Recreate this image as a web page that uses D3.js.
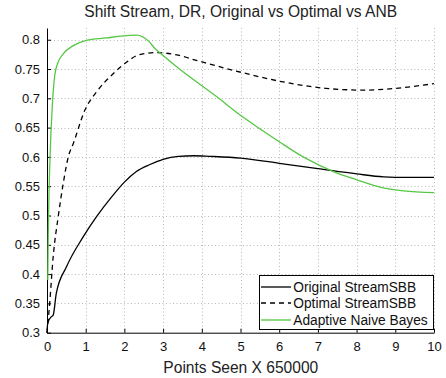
<!DOCTYPE html>
<html>
<head>
<meta charset="utf-8">
<script src="https://cdn.jsdelivr.net/npm/d3@7"></script>
<style>
  html, body { margin: 0; padding: 0; background: #fff; }
  svg { display: block; font-family: "Liberation Sans", Arial, Helvetica, sans-serif; }
</style>
</head>
<body>
<svg id="chart" width="446" height="378"></svg>
<script>
// Detection rate over the stream (x in units of 650000 points)
const originalX = [0, 0.02, 0.11, 0.16, 0.24, 0.5, 0.93, 1.28, 1.65, 2.0, 2.31, 2.66, 3.0, 3.4, 3.8, 4.2, 5.0, 6.0, 7.0, 8.0, 8.7, 9.3, 10];
const originalY = [0.30, 0.317, 0.327, 0.330, 0.367, 0.412, 0.463, 0.498, 0.530, 0.557, 0.575, 0.587, 0.596, 0.601, 0.602, 0.601, 0.598, 0.589, 0.580, 0.571, 0.566, 0.565, 0.565];

const optimalX = [0, 0.07, 0.16, 0.29, 0.42, 0.55, 0.68, 0.98, 1.28, 1.71, 2.06, 2.32, 2.6, 2.83, 3.35, 3.9, 4.8, 6.1, 7.2, 8.2, 9.0, 10];
const optimalY = [0.30, 0.351, 0.430, 0.498, 0.555, 0.600, 0.623, 0.680, 0.711, 0.742, 0.762, 0.773, 0.777, 0.778, 0.774, 0.764, 0.748, 0.728, 0.717, 0.714, 0.717, 0.725];

const anbX = [0.02, 0.03, 0.09, 0.12, 0.16, 0.2, 0.29, 0.42, 0.68, 1.02, 1.54, 1.88, 2.32, 2.62, 2.79, 3.0, 3.44, 4.38, 5.0, 5.5, 6.02, 6.62, 7.4, 8.0, 8.69, 9.21, 10];
const anbY = [0.39, 0.45, 0.620, 0.665, 0.711, 0.739, 0.762, 0.776, 0.790, 0.799, 0.803, 0.806, 0.808, 0.798, 0.785, 0.773, 0.749, 0.703, 0.671, 0.648, 0.625, 0.600, 0.575, 0.561, 0.547, 0.542, 0.539];

const xTicks = [0, 1, 2, 3, 4, 5, 6, 7, 8, 9, 10];
const yTicks = [0.3, 0.35, 0.4, 0.45, 0.5, 0.55, 0.6, 0.65, 0.7, 0.75, 0.8];

const seriesNames = ["Original StreamSBB", "Optimal StreamSBB", "Adaptive Naive Bayes"];
const titleText = "Shift Stream, DR, Original vs Optimal vs ANB";
const xLabelText = "Points Seen X 650000";

const svg = d3.select("#chart");
const plotLeft = 47, plotRight = 434, plotTop = 28, plotBottom = 332.7;

const x = d3.scaleLinear().domain([0, 10]).range([plotLeft, plotRight]);
const y = d3.scaleLinear().domain([0.3, 0.82]).range([plotBottom, plotTop]);

// size a text element so that it spans the given width
function fitWidth(sel, width) {
  const w = sel.node().getComputedTextLength();
  const fs = parseFloat(sel.attr("font-size"));
  sel.attr("font-size", (fs * width / w).toFixed(2));
}

// dotted grid
const grid = svg.append("g").attr("stroke", "#b8b8b8").attr("stroke-width", 1).attr("stroke-dasharray", "1,2.5");
grid.selectAll("line.v").data(xTicks.slice(1)).join("line").attr("class", "v")
  .attr("x1", d => Math.round(x(d)) + 0.5).attr("x2", d => Math.round(x(d)) + 0.5)
  .attr("y1", plotTop).attr("y2", plotBottom);
grid.selectAll("line.h").data(yTicks.slice(1)).join("line").attr("class", "h")
  .attr("x1", plotLeft).attr("x2", plotRight)
  .attr("y1", d => Math.round(y(d)) + 0.5).attr("y2", d => Math.round(y(d)) + 0.5);

// axes with inward ticks
const xAxis = d3.axisBottom(x).tickValues(xTicks).tickFormat(d3.format("d")).tickSizeInner(-4).tickSizeOuter(0).tickPadding(9);
const yAxis = d3.axisLeft(y).tickValues(yTicks).tickFormat(d => String(+d.toFixed(2))).tickSizeInner(-4).tickSizeOuter(0).tickPadding(7);

const gx = svg.append("g").attr("transform", `translate(0,${plotBottom})`).call(xAxis);
const gy = svg.append("g").attr("transform", `translate(${plotLeft},0)`).call(yAxis);
[gx, gy].forEach(g => {
  g.select(".domain").attr("stroke", "#000").attr("stroke-width", 1);
  g.selectAll(".tick line").attr("stroke", "#000");
  g.selectAll(".tick text").attr("fill", "#111").attr("font-size", 13)
    .attr("font-family", "Liberation Sans, Arial, sans-serif");
});

const line = d3.line().x(d => x(d[0])).y(d => y(d[1])).curve(d3.curveMonotoneX);
const zip = (xs, ys) => xs.map((v, i) => [v, ys[i]]);

const series = [
  { data: zip(originalX, originalY), color: "#000", dash: null, width: 1.3 },
  { data: zip(optimalX, optimalY), color: "#000", dash: "5,4", width: 1.3 },
  { data: zip(anbX, anbY), color: "#55c843", dash: null, width: 1.3 }
];

const plot = svg.append("g");
plot.selectAll("path").data(series).join("path")
  .attr("d", s => line(s.data))
  .attr("fill", "none")
  .attr("stroke", s => s.color)
  .attr("stroke-width", s => s.width)
  .attr("stroke-dasharray", s => s.dash);

// title and axis label
const title = svg.append("text").attr("x", 240.7).attr("y", 17.3).attr("text-anchor", "middle")
  .attr("font-size", 14).attr("fill", "#222").text(titleText);
fitWidth(title, 313);
const xLabel = svg.append("text").attr("x", 240.8).attr("y", 373).attr("text-anchor", "middle")
  .attr("font-size", 14).attr("fill", "#222").text(xLabelText);
fitWidth(xLabel, 155);

// legend
const lg = svg.append("g");
lg.append("rect").attr("x", 259.5).attr("y", 275.5).attr("width", 174).attr("height", 54)
  .attr("fill", "#fff").attr("stroke", "#000").attr("stroke-width", 1);
const rowsY = [287, 303, 320];
const legendTexts = series.map((s, i) => {
  lg.append("line").attr("x1", 261).attr("x2", 291).attr("y1", rowsY[i]).attr("y2", rowsY[i])
    .attr("stroke", s.color).attr("stroke-width", s.width).attr("stroke-dasharray", s.dash);
  return lg.append("text").attr("x", 293.3).attr("y", rowsY[i] + 4.5).attr("font-size", 12)
    .attr("fill", "#111").text(seriesNames[i]);
});
fitWidth(legendTexts[2], 134.4);
const legendFs = legendTexts[2].attr("font-size");
legendTexts.forEach(t => t.attr("font-size", legendFs));
</script>
</body>
</html>
